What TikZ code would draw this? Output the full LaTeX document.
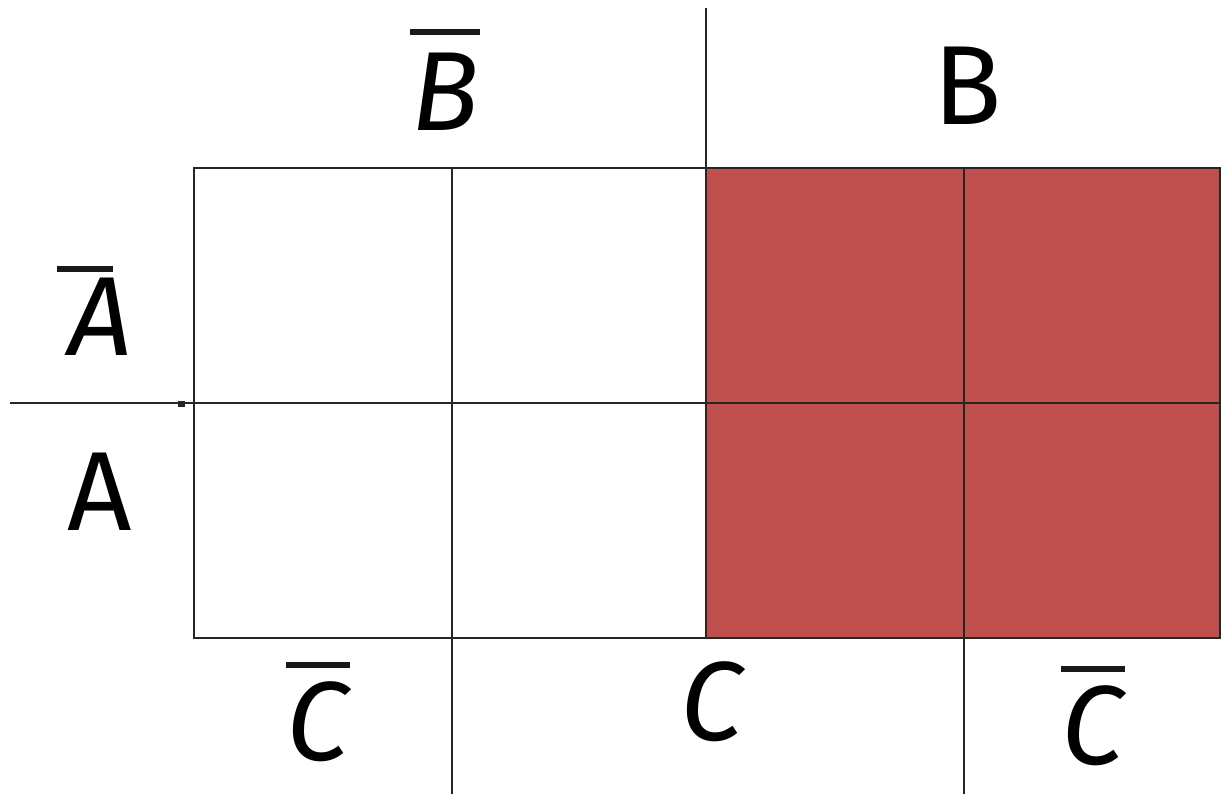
\documentclass[tikz,border=0pt]{standalone}
\usepackage{fontspec}
\setmainfont{Fira Sans}
\usepackage{tikz}
\definecolor{kmred}{RGB}{192,80,78}

\begin{document}
\begin{tikzpicture}[
    grid line/.style={draw=black!85,line width=0.8pt},
    neg bar/.style={draw=black!90,line width=1.7pt},
    var label/.style={font=\fontsize{32}{36}\selectfont,inner sep=0pt}]
  \useasboundingbox (0,0) rectangle (12.24,7.94);
  % filled half (B)
  \fill[kmred] (7.06,1.56) rectangle (12.20,6.26);
  % map frame and cells
  \draw[grid line] (1.94,1.56) rectangle (12.20,6.26);
  \draw[grid line] (0.10,3.91) -- (12.20,3.91);
  \draw[grid line] (4.52,0.00) -- (4.52,6.26);
  \draw[grid line] (7.06,1.56) -- (7.06,7.86);
  \draw[grid line] (9.64,0.00) -- (9.64,6.26);
  \draw[grid line,line width=1.6pt] (1.78,3.90) -- (1.85,3.90);
  % variable labels
  \node[var label] (bbar)  at (4.45,7.02) {\itshape B};
  \node[var label] (bpos)  at (9.68,7.08) {B};
  \node[var label] (abar)  at (1.00,4.77) {\itshape A};
  \node[var label] (apos)  at (1.00,3.02) {A};
  \node[var label] (cbarl) at (3.18,0.72) {\itshape C};
  \node[var label] (cmid)  at (7.12,0.92) {\itshape C};
  \node[var label] (cbarr) at (10.93,0.68) {\itshape C};
  % complement bars
  \draw[neg bar] ([yshift=0.21cm]bbar.north west) -- ([yshift=0.21cm]bbar.north east);
  \draw[neg bar] ([xshift=-0.1cm,yshift=0.09cm]abar.north west) -- ([xshift=-0.2cm,yshift=0.09cm]abar.north east);
  \draw[neg bar] ([yshift=0.16cm]cbarl.north west) -- ([yshift=0.16cm]cbarl.north east);
  \draw[neg bar] ([yshift=0.16cm]cbarr.north west) -- ([yshift=0.16cm]cbarr.north east);
\end{tikzpicture}
\end{document}
